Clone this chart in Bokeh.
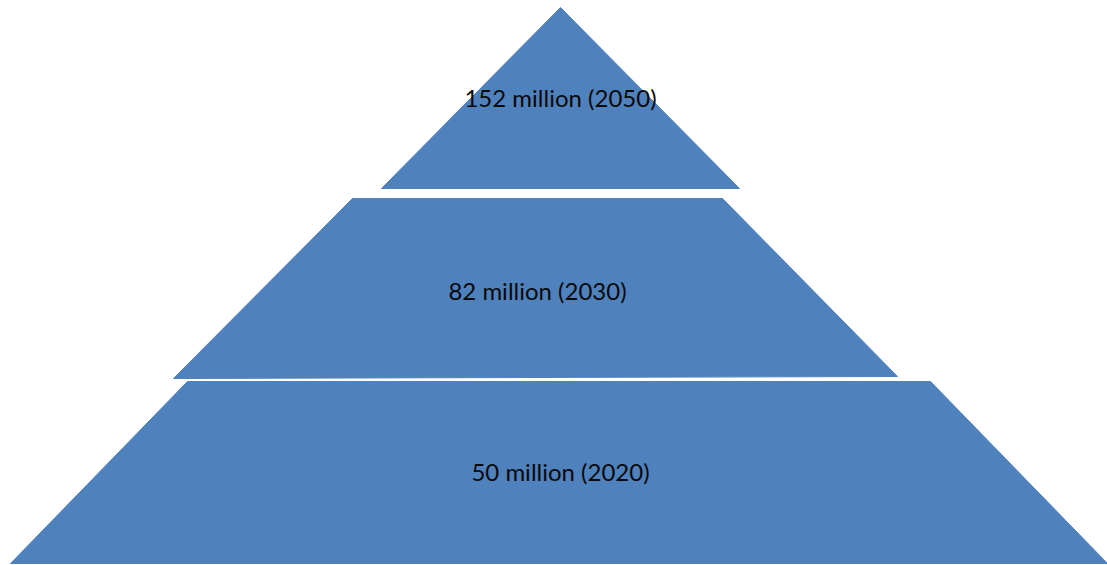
from bokeh.plotting import figure
from bokeh.models import Range1d, ColumnDataSource
from bokeh.core.properties import value
from bokeh.embed import file_html
from bokeh.resources import INLINE

# ---- data ----
years = [2020, 2030, 2050]
millions = [50, 82, 152]
labels = [f"{m} million ({y})" for m, y in zip(millions, years)]

# ---- layout (pixel geometry of the pyramid pieces, bottom to top) ----
tier_x = [
    [187, 930, 1107, 10],
    [352, 722, 897, 173],
    [560, 560, 739, 381],
]
tier_y = [
    [381, 381, 563, 563],
    [198, 198, 376, 378],
    [7, 7, 188, 188],
]
label_x = [560, 537, 560]
label_y = [471, 290, 97]

W, H = 1107, 565
p = figure(width=W, height=H, output_backend="svg", toolbar_location=None,
           x_range=Range1d(0, W), y_range=Range1d(H, 0), min_border=0)
p.axis.visible = False
p.grid.visible = False
p.outline_line_color = None
p.background_fill_color = "white"
p.border_fill_color = "white"

src = ColumnDataSource(dict(xs=tier_x, ys=tier_y))
p.patches("xs", "ys", source=src, fill_color="#4F81BD", line_color="#4F81BD", line_width=1)

tsrc = ColumnDataSource(dict(x=label_x, y=label_y, text=labels))
p.text("x", "y", text="text", source=tsrc, text_align="center", text_baseline="middle",
       text_font=value("Lato"), text_font_size="24px", text_color="#0a0a0a")

open("out.html", "w").write(file_html(p, INLINE))
